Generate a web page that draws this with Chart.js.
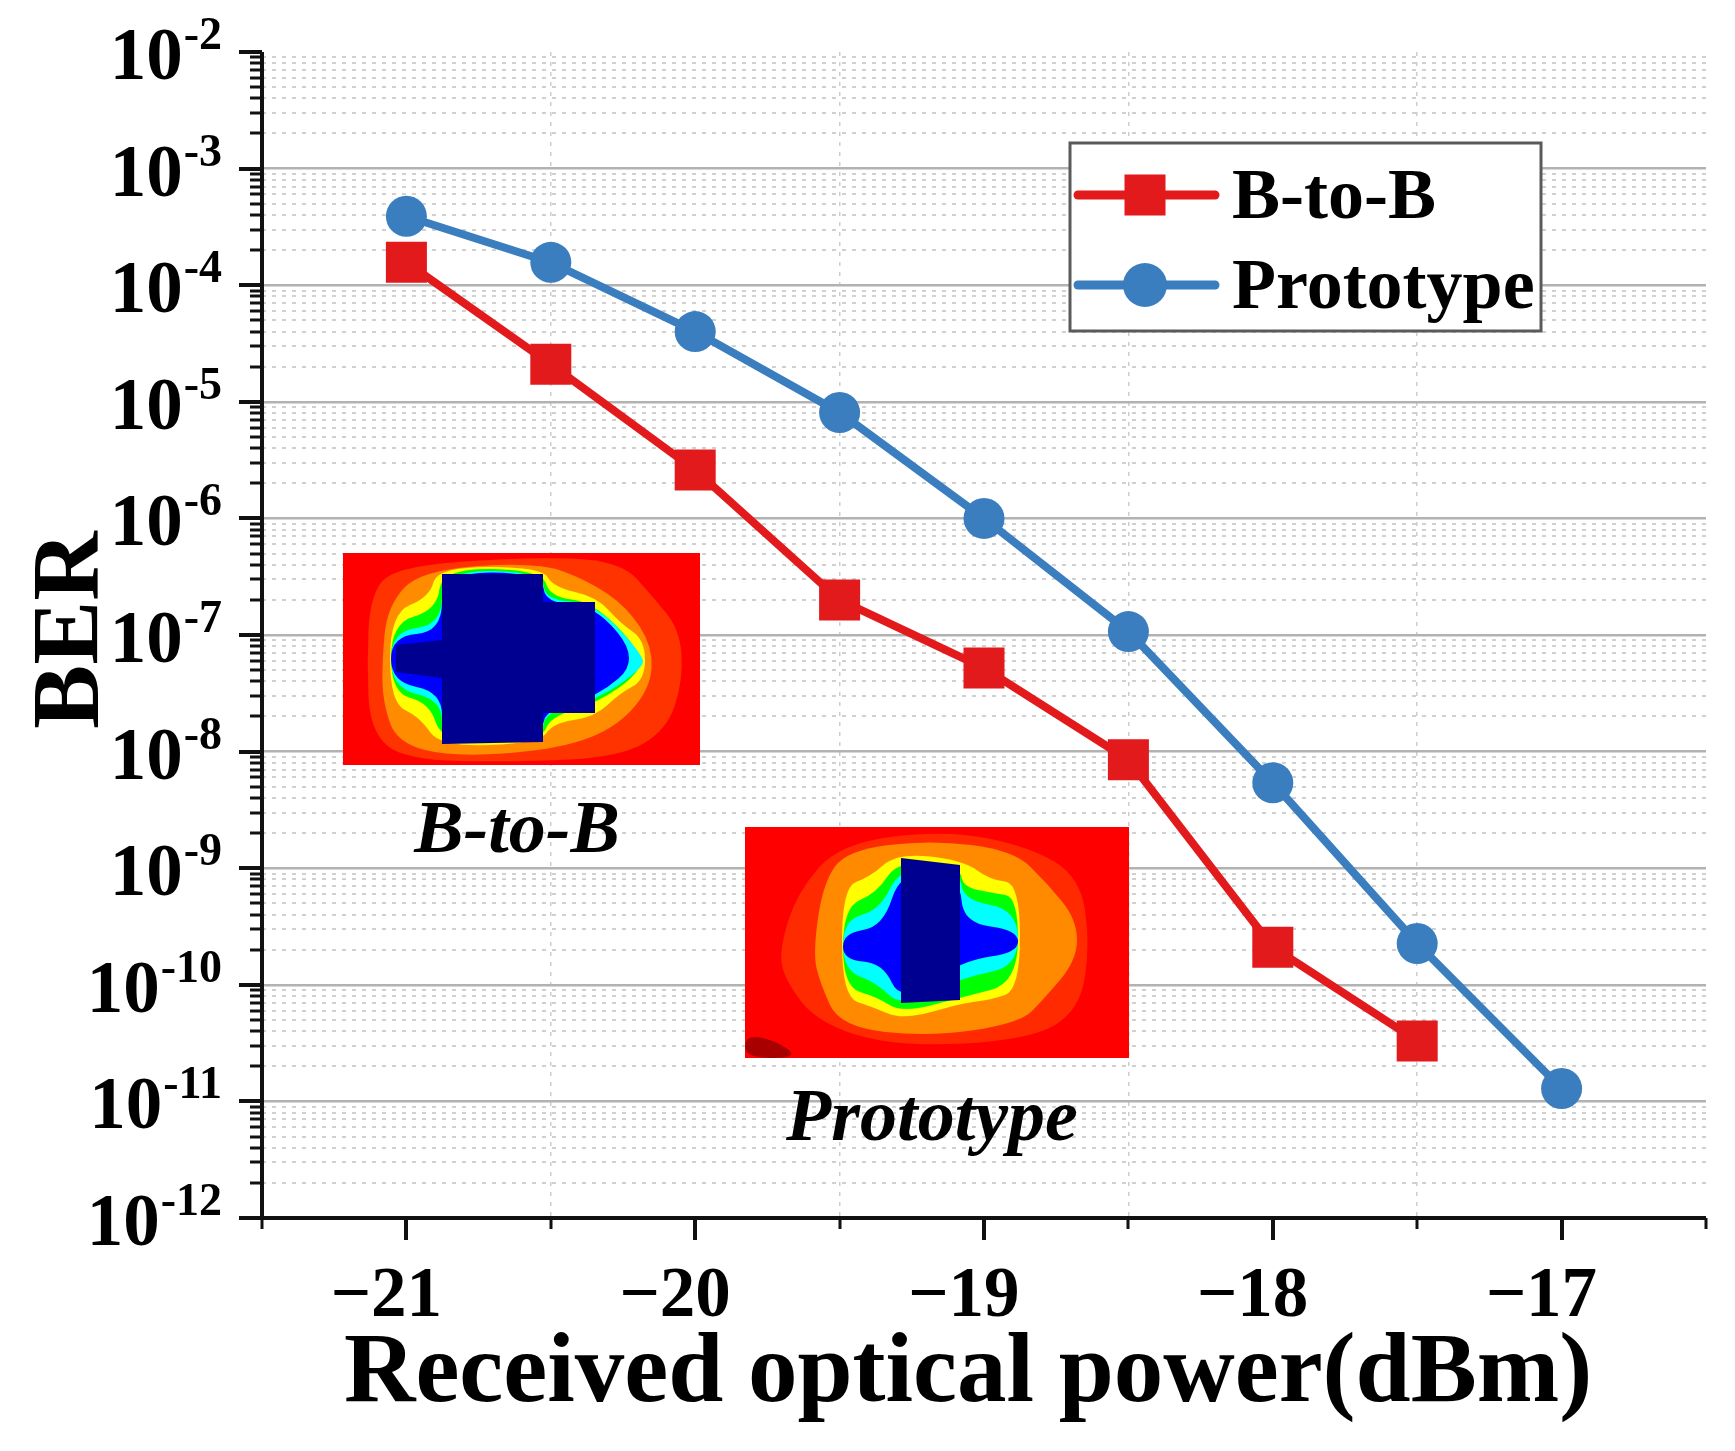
<!DOCTYPE html>
<html>
<head>
<meta charset="utf-8">
<title>BER vs received optical power</title>
<script src="https://cdn.jsdelivr.net/npm/chart.js@4.4.0/dist/chart.umd.min.js"></script>
<style>
  html, body { margin: 0; padding: 0; background: #fff; }
  #wrap { width: 1735px; height: 1451px; }
</style>
</head>
<body>
<div id="wrap"><canvas id="ber-chart" width="1735" height="1451"></canvas></div>
<script>
// ---- data ----
const powerLevels = [-21, -20.5, -20, -19.5, -19, -18.5, -18, -17.5, -17];
const berBtoB = [1.57e-4, 2.1e-5, 2.6e-6, 2.0e-7, 5.2e-8, 8.5e-9, 2.1e-10, 3.3e-11];
const berPrototype = [3.9e-4, 1.57e-4, 4.0e-5, 8.1e-6, 1.0e-6, 1.07e-7, 5.4e-9, 2.26e-10, 1.29e-11];

const xTicks = [-21.5, -21, -20.5, -20, -19.5, -19, -18.5, -18, -17.5, -17, -16.5];
const xLabelValues = [-21, -20, -19, -18, -17];
const xTickLabels = ['\u221221', '\u221220', '\u221219', '\u221218', '\u221217'];
const yExponents = [-12, -11, -10, -9, -8, -7, -6, -5, -4, -3, -2];
const yMinorSteps = [1, 2, 3, 4, 5, 6, 7, 8, 9];

const xTitle = 'Received optical power(dBm)';
const yTitle = 'BER';
const insetLabels = ['B-to-B', 'Prototype'];

const FONT = '"Liberation Serif", "Times New Roman", serif';
const RED = '#e31a1c';
const BLUE = '#3a7ebf';

const yTickValues = [];
yExponents.forEach(e => {
  if (e < -2) yMinorSteps.forEach(m => yTickValues.push(parseFloat(m + 'e' + e)));
  else yTickValues.push(parseFloat('1e' + e));
});

function isDecade(v) {
  const e = Math.log10(v);
  return Math.abs(e - Math.round(e)) < 1e-6;
}

// ---- inset contour pictures (decoration, pixel shapes) ----
const insets = [
  {
    box: [343, 553, 700, 765],
    label: insetLabels[0], labelX: 517, labelY: 852,
    shapes: [
      ['#ff3300', true, [[367,663],[370,597],[393,567],[520,557],[620,560],[653,597],[680,630],[683,680],[667,730],[620,757],[520,762],[403,760],[370,730]]],
      ['#ff8c00', true, [[382,663],[387,607],[420,570],[537,562],[587,580],[627,607],[653,647],[650,690],[613,730],[553,750],[453,757],[397,743],[383,703]]],
      ['#ffff00', true, [[390,613],[430,597],[437,567],[542,567],[553,587],[597,597],[620,623],[645,640],[645,680],[620,693],[595,717],[553,723],[540,743],[440,747],[420,717],[390,703]]],
      ['#00ff00', true, [[391,623],[437,610],[442,568],[542,570],[550,597],[593,602],[640,650],[640,673],[597,703],[550,717],[542,740],[442,743],[430,703],[391,693]]],
      ['#00ffff', true, [[391,631],[442,625],[442,570],[542,572],[545,600],[595,603],[643,655],[643,668],[597,700],[545,712],[542,737],[442,740],[442,700],[391,688]]],
      ['#0000ff', true, [[391,636],[442,632],[442,572],[542,573],[545,603],[595,605],[640,660],[597,697],[545,710],[542,735],[442,738],[442,692],[391,682]]],
      ['#000090', false, [[442,574],[543,574],[543,602],[595,602],[595,713],[543,713],[543,742],[442,744],[442,678],[396,672],[396,645],[442,640]]]
    ]
  },
  {
    box: [745, 827, 1129, 1058],
    label: insetLabels[1], labelX: 932, labelY: 1140,
    shapes: [
      ['#a80000', true, [[745,1035],[775,1040],[800,1058],[745,1058]]],
      ['#ff2a00', true, [[780,947],[797,893],[840,843],[947,830],[1030,847],[1080,877],[1090,943],[1080,1010],[1030,1040],[897,1047],[817,1023],[783,977]]],
      ['#ff8a00', true, [[813,953],[823,883],[847,850],[930,840],[1013,850],[1047,883],[1077,920],[1077,960],[1043,1000],[1020,1023],[930,1037],[840,1027],[820,983]]],
      ['#ffff00', true, [[842,887],[870,877],[897,853],[963,860],[990,880],[1020,883],[1020,990],[990,1000],[963,1003],[903,1020],[873,1007],[842,997]]],
      ['#00ff00', true, [[843,907],[877,893],[898,860],[960,867],[963,887],[993,893],[1018,897],[1018,983],[963,997],[902,1013],[877,997],[843,987]]],
      ['#00ffff', true, [[843,920],[880,910],[900,867],[960,870],[963,900],[1018,910],[1018,967],[963,977],[901,1007],[877,983],[843,970]]],
      ['#0000ff', true, [[843,933],[883,927],[901,870],[960,877],[963,923],[1018,930],[1018,953],[963,960],[901,1003],[883,963],[843,960]]],
      ['#000090', false, [[901,858],[960,865],[960,1000],[901,1003]]]
    ]
  }
];

function tracePath(ctx, pts, smooth) {
  ctx.beginPath();
  if (!smooth) {
    pts.forEach((p, i) => i ? ctx.lineTo(p[0], p[1]) : ctx.moveTo(p[0], p[1]));
  } else {
    const n = pts.length;
    const mid = (a, b) => [(a[0] + b[0]) / 2, (a[1] + b[1]) / 2];
    const start = mid(pts[n - 1], pts[0]);
    ctx.moveTo(start[0], start[1]);
    for (let i = 0; i < n; i++) {
      const m = mid(pts[i], pts[(i + 1) % n]);
      ctx.quadraticCurveTo(pts[i][0], pts[i][1], m[0], m[1]);
    }
  }
  ctx.closePath();
}

const insetPlugin = {
  id: 'insets',
  beforeDatasetsDraw(chart) {
    const ctx = chart.ctx;
    ctx.save();
    insets.forEach(ins => {
      const [x0, y0, x1, y1] = ins.box;
      ctx.save();
      ctx.beginPath();
      ctx.rect(x0, y0, x1 - x0, y1 - y0);
      ctx.clip();
      ctx.fillStyle = '#ff0000';
      ctx.fillRect(x0, y0, x1 - x0, y1 - y0);
      ins.shapes.forEach(([color, smooth, pts]) => {
        ctx.fillStyle = color;
        tracePath(ctx, pts, smooth);
        ctx.fill();
      });
      ctx.restore();
      ctx.fillStyle = '#000';
      ctx.font = 'italic bold 74px ' + FONT;
      ctx.textAlign = 'center';
      ctx.textBaseline = 'alphabetic';
      ctx.fillText(ins.label, ins.labelX, ins.labelY);
    });
    ctx.restore();
  }
};

// ---- axes, ticks, labels and titles in the Origin style ----
const axesPlugin = {
  id: 'originAxes',
  afterDraw(chart) {
    const {ctx, chartArea: a, scales: {x, y}} = chart;
    ctx.save();
    ctx.strokeStyle = '#111';
    ctx.fillStyle = '#000';

    ctx.lineWidth = 4;
    ctx.beginPath();
    ctx.moveTo(a.left, a.top);
    ctx.lineTo(a.left, a.bottom + 2);
    ctx.moveTo(a.left - 2, a.bottom);
    ctx.lineTo(a.right, a.bottom);
    ctx.stroke();

    yTickValues.forEach(v => {
      const py = Math.round(y.getPixelForValue(v));
      const major = isDecade(v);
      ctx.lineWidth = major ? 4 : 3;
      ctx.beginPath();
      ctx.moveTo(a.left - (major ? 23 : 12), py);
      ctx.lineTo(a.left, py);
      ctx.stroke();
    });

    xTicks.forEach(v => {
      const px = Math.round(x.getPixelForValue(v));
      const major = Number.isInteger(v);
      ctx.lineWidth = major ? 4 : 3;
      ctx.beginPath();
      ctx.moveTo(px, a.bottom);
      ctx.lineTo(px, a.bottom + (major ? 22 : 11));
      ctx.stroke();
    });

    // y labels: 10 with a raised exponent
    ctx.textBaseline = 'alphabetic';
    ctx.textAlign = 'right';
    const labelRight = a.left - 40;
    yExponents.forEach(e => {
      const py = y.getPixelForValue(parseFloat('1e' + e));
      const sup = String(e);
      ctx.font = 'bold 46px ' + FONT;
      const supW = ctx.measureText(sup).width;
      ctx.fillText(sup, labelRight, py - 3);
      ctx.font = 'bold 73px ' + FONT;
      ctx.fillText('10', labelRight - supW - 1, py + 27);
    });

    // x labels: digits centred on the tick, minus sign hanging left
    ctx.font = 'bold 71px ' + FONT;
    ctx.textAlign = 'left';
    xLabelValues.forEach((v, i) => {
      const px = x.getPixelForValue(v);
      const txt = xTickLabels[i];
      const minusW = ctx.measureText(txt[0]).width;
      const digitsW = ctx.measureText(txt.slice(1)).width;
      ctx.fillText(txt, px - digitsW / 2 - minusW, a.bottom + 98);
    });

    // titles
    ctx.textAlign = 'center';
    ctx.font = 'bold 99px ' + FONT;
    ctx.fillText(xTitle, 968, a.bottom + 183);

    ctx.save();
    ctx.translate(98, 630);
    ctx.rotate(-Math.PI / 2);
    ctx.font = 'bold 96px ' + FONT;
    ctx.fillText(yTitle, 0, 0);
    ctx.restore();

    ctx.restore();
  }
};

// ---- framed legend inside the plot ----
const legendPlugin = {
  id: 'boxLegend',
  afterDraw(chart) {
    const ctx = chart.ctx;
    const box = [1070, 143, 1541, 331];
    const rows = [195, 285];
    ctx.save();
    ctx.fillStyle = '#fff';
    ctx.fillRect(box[0], box[1], box[2] - box[0], box[3] - box[1]);
    ctx.strokeStyle = '#5a5a5a';
    ctx.lineWidth = 3;
    ctx.strokeRect(box[0], box[1], box[2] - box[0], box[3] - box[1]);

    chart.data.datasets.forEach((ds, i) => {
      const yy = rows[i];
      ctx.strokeStyle = ds.borderColor;
      ctx.lineWidth = ds.borderWidth + 1;
      ctx.lineCap = 'round';
      ctx.beginPath();
      ctx.moveTo(1078, yy);
      ctx.lineTo(1215, yy);
      ctx.stroke();
      ctx.fillStyle = ds.backgroundColor;
      if (ds.pointStyle === 'rect') {
        const s = ds.pointRadius * Math.SQRT1_2;
        ctx.fillRect(1145 - s, yy - s, 2 * s, 2 * s);
      } else {
        ctx.beginPath();
        ctx.arc(1145, yy, ds.pointRadius + 1.5, 0, Math.PI * 2);
        ctx.fill();
      }
      ctx.fillStyle = '#000';
      ctx.font = 'bold 72px ' + FONT;
      ctx.textAlign = 'left';
      ctx.textBaseline = 'alphabetic';
      ctx.fillText(ds.label, 1232, yy + 23);
    });
    ctx.restore();
  }
};

const ctx = document.getElementById('ber-chart').getContext('2d');
const berChart = new Chart(ctx, {
  type: 'line',
  data: {
    datasets: [
      {
        label: 'B-to-B',
        data: berBtoB.map((v, i) => ({ x: powerLevels[i], y: v })),
        borderColor: RED,
        backgroundColor: RED,
        borderWidth: 8,
        pointStyle: 'rect',
        pointRadius: 29,
        pointBorderWidth: 0,
        tension: 0,
        fill: false
      },
      {
        label: 'Prototype',
        data: berPrototype.map((v, i) => ({ x: powerLevels[i], y: v })),
        borderColor: BLUE,
        backgroundColor: BLUE,
        borderWidth: 8,
        pointStyle: 'circle',
        pointRadius: 20.5,
        pointBorderWidth: 0,
        tension: 0,
        fill: false
      }
    ]
  },
  options: {
    responsive: false,
    animation: false,
    layout: { padding: { left: 262, top: 52, right: 25, bottom: 233 } },
    plugins: {
      legend: { display: false },
      tooltip: { enabled: false }
    },
    scales: {
      x: {
        type: 'linear',
        min: -21.5,
        max: -16.5,
        afterBuildTicks: scale => { scale.ticks = xTicks.map(v => ({ value: v })); },
        ticks: { display: false },
        border: { display: false, dash: [4, 6] },
        grid: {
          drawTicks: false,
          lineWidth: 1.5,
          color: c => {
            const v = c.tick ? c.tick.value : 0;
            const half = Math.abs(v - Math.round(v)) > 0.25;
            return half && v > -21.4 && v < -16.6 ? '#cdcdcd' : 'rgba(0,0,0,0)';
          }
        }
      },
      y: {
        type: 'logarithmic',
        min: 1e-12,
        max: 1e-2,
        afterBuildTicks: scale => { scale.ticks = yTickValues.map(v => ({ value: v })); },
        ticks: { display: false },
        border: {
          display: false,
          dash: c => (c.tick && isDecade(c.tick.value)) ? [] : [4, 6]
        },
        grid: {
          drawTicks: false,
          lineWidth: c => (c.tick && isDecade(c.tick.value)) ? 2.5 : 2,
          color: c => {
            const v = c.tick ? c.tick.value : 0;
            if (!v || v > 0.99e-2 || v < 1.01e-12) return 'rgba(0,0,0,0)';
            return isDecade(v) ? '#b2b2b2' : '#d0d0d0';
          }
        }
      }
    }
  },
  plugins: [insetPlugin, axesPlugin, legendPlugin]
});
</script>
</body>
</html>
